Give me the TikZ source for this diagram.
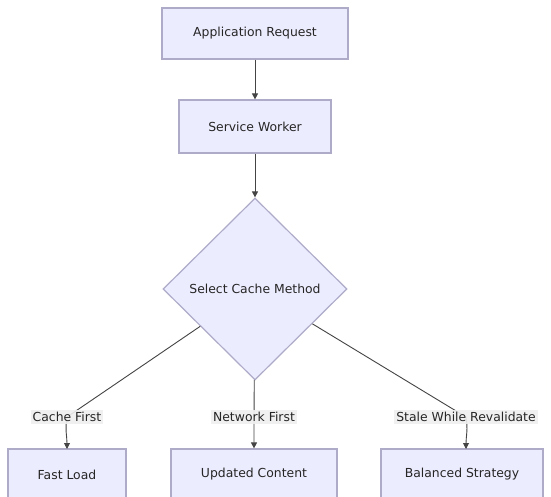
\documentclass[tikz,border=0pt]{standalone}
\usepackage{fontspec}
\setmainfont{DejaVu Sans}
\usetikzlibrary{shapes.geometric,arrows.meta}
\definecolor{boxfill}{HTML}{ECECFF}
\definecolor{boxline}{HTML}{ADABC8}
\definecolor{edgecol}{HTML}{444444}
\definecolor{lblfill}{HTML}{EFEFF0}
\tikzset{
  box/.style={draw=boxline, fill=boxfill, line width=1.2pt, inner sep=0pt, minimum height=51pt, font=\fontsize{12.4}{14}\selectfont, text=black!85},
  dec/.style={draw=boxline, fill=boxfill, line width=1.2pt, shape=diamond, aspect=1, inner sep=0pt, minimum width=184pt, minimum height=182pt, font=\fontsize{12.4}{14}\selectfont, text=black!85},
  edge/.style={draw=edgecol, line width=0.9pt, -{Triangle[length=6pt,width=6pt]}},
  lbl/.style={fill=lblfill, fill opacity=0.9, text opacity=1, inner sep=2pt, font=\fontsize{12.4}{14}\selectfont, text=black!85}
}
\begin{document}
\begin{tikzpicture}[x=1pt,y=-1pt]
\useasboundingbox (0,0) rectangle (551,497);
\fill[white] (0,0) rectangle (551,497);
\clip (0,0) rectangle (551,497);
\node[box, minimum width=186pt] (req) at (255,33.5) {Application Request};
\node[box, minimum width=152pt, minimum height=53pt] (sw) at (255,126.5) {Service Worker};
\node[dec] (sel) at (255,289) {Select Cache Method};
\node[box, minimum width=118pt] (fast) at (67,474.5) {Fast Load};
\node[box, minimum width=166pt] (upd) at (254,474.5) {Updated Content};
\node[box, minimum width=162pt] (bal) at (462,474.5) {Balanced Strategy};
\coordinate (c1) at (67,417);
\coordinate (c2) at (254,417);
\coordinate (c3) at (466,417);
\coordinate (e1) at (67,449);
\coordinate (e3) at (466,449);
\draw[edge] (req) -- (sw);
\draw[edge] (sw) -- (sel);
\draw[edge] (sel) -- (c1) node[lbl] (l1) {Cache First} to[out=-100,in=90] (e1);
\draw[edge] (sel) -- (c2) node[lbl] (l2) {Network First} -- (upd);
\draw[edge] (sel) -- (c3) node[lbl] (l3) {Stale While Revalidate} to[out=-80,in=90] (e3);
\end{tikzpicture}
\end{document}
